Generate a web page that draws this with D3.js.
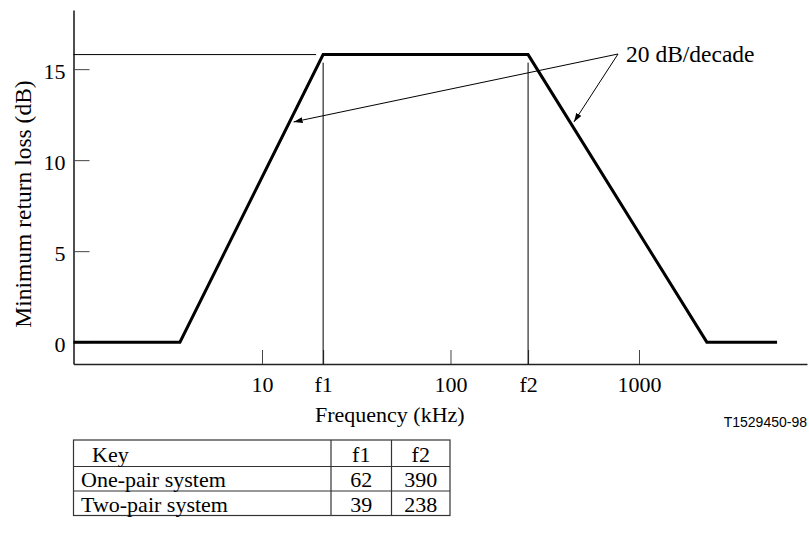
<!DOCTYPE html>
<meta charset="utf-8">
<script src="https://d3js.org/d3.v7.min.js"></script>
<style>
  body { margin: 0; background: #fff; }
  #my_dataviz svg text { font-family: "Liberation Serif", "Times New Roman", serif; fill: #000; }
</style>
<div id="my_dataviz"></div>
<script>
// corner points of the minimum return loss mask (kHz, dB)
var maskFreq = [1, 3.67, 21.1, 258, 2290, 5400];
var maskLoss = [0, 0, 15.8, 15.8, 0, 0];
var f1 = 21.1, f2 = 258, plateau = 15.8;
var xTickValues = [10, f1, 100, f2, 1000];
var xTickLabels = ["10", "f1", "100", "f2", "1000"];
var yTickValues = [0, 5, 10, 15];
// key table
var keyHeader = ["Key", "f1", "f2"];
var keyRows = ["One-pair system", "Two-pair system"];
var keyF1 = [62, 39];
var keyF2 = [390, 238];

var margin = {top: 10, left: 73.5},
    width = 807 - margin.left,
    height = 364 - margin.top;

var svg = d3.select("#my_dataviz")
  .append("svg")
    .attr("width", 809)
    .attr("height", 533);

var g = svg.append("g")
    .attr("transform", "translate(" + margin.left + "," + margin.top + ")");

var x = d3.scaleLog()
    .domain([1, 7785])
    .range([0, width]);
var y = d3.scaleLinear()
    .domain([-1.2, 18.25])
    .range([height, 0]);

// Y axis, ticks pointing inwards
var yAxis = g.append("g")
    .call(d3.axisLeft(y).tickValues(yTickValues).tickSize(-16).tickSizeOuter(0).tickPadding(8));
yAxis.selectAll("text").attr("dy", "0.42em").style("font-size", "22px");

// X axis
var xAxis = g.append("g")
    .attr("transform", "translate(0," + height + ")")
    .call(d3.axisBottom(x).tickValues(xTickValues)
      .tickFormat(function(d, i) { return xTickLabels[i]; })
      .tickSize(-14).tickSizeOuter(0).tickPadding(12));
xAxis.selectAll("text").style("font-size", "22px");

g.selectAll(".domain").style("stroke", "#222").style("stroke-width", 1.6);
g.selectAll(".tick line").style("stroke", "#444").style("stroke-width", 1);

// thin guide lines
g.append("line")
    .attr("x1", 0).attr("x2", x(f1) - 7)
    .attr("y1", y(plateau)).attr("y2", y(plateau))
    .style("stroke", "#000").style("stroke-width", 1);
g.selectAll(".fline")
  .data([f1, f2])
  .enter()
  .append("line")
    .attr("x1", function(d) { return x(d); })
    .attr("x2", function(d) { return x(d); })
    .attr("y1", height)
    .attr("y2", y(plateau) + 8)
    .style("stroke", "#000").style("stroke-width", 1);

// mask
var pts = maskFreq.map(function(d, i) { return [d, maskLoss[i]]; });
g.append("path")
    .datum(pts)
    .attr("fill", "none")
    .attr("stroke", "#000")
    .attr("stroke-width", 3)
    .attr("d", d3.line()
      .x(function(d) { return x(d[0]); })
      .y(function(d) { return y(d[1]); }));

// annotation
svg.append("defs").append("marker")
    .attr("id", "arr")
    .attr("markerUnits", "userSpaceOnUse")
    .attr("markerWidth", 10).attr("markerHeight", 8)
    .attr("refX", 9).attr("refY", 3)
    .attr("orient", "auto")
  .append("path")
    .attr("d", "M0,0 L9,3 L0,6 z")
    .attr("fill", "#000");

function onSegment(p, q, level) {
  var xa = x(p[0]), ya = y(p[1]), xb = x(q[0]), yb = y(q[1]);
  var t = (y(level) - ya) / (yb - ya);
  return [xa + t * (xb - xa), y(level)];
}
var tipA = onSegment(pts[1], pts[2], 12.1),
    tipB = onSegment(pts[3], pts[4], 12.1);
var hub = [544.5, 44];
[tipA, tipB].forEach(function(t) {
  g.append("line")
      .attr("x1", hub[0]).attr("y1", hub[1])
      .attr("x2", t[0] + 4).attr("y2", t[1])
      .attr("stroke", "#000").attr("stroke-width", 1)
      .attr("marker-end", "url(#arr)");
});
g.append("text")
    .attr("x", hub[0] + 8).attr("y", hub[1] + 8)
    .style("font-size", "23.5px")
    .text("20 dB/decade");

// axis titles
svg.append("text")
    .attr("transform", "rotate(-90)")
    .attr("x", -204).attr("y", 31)
    .attr("text-anchor", "middle")
    .style("font-size", "23.5px")
    .text("Minimum return loss (dB)");
svg.append("text")
    .attr("x", 315).attr("y", 422)
    .style("font-size", "22px")
    .text("Frequency (kHz)");
svg.append("text")
    .attr("x", 807).attr("y", 427)
    .attr("text-anchor", "end")
    .style("font-family", "'Liberation Sans', Arial, sans-serif")
    .style("font-size", "14px")
    .text("T1529450-98");

// key table
var colX = [73.5, 331, 391.5, 450],
    rowY = [440, 466.5, 491, 515.5];
var tbl = svg.append("g");
tbl.append("rect")
    .attr("x", colX[0]).attr("y", rowY[0])
    .attr("width", colX[3] - colX[0]).attr("height", rowY[3] - rowY[0])
    .attr("fill", "none").attr("stroke", "#333").attr("stroke-width", 1.2);
[1, 2].forEach(function(i) {
  tbl.append("line")
      .attr("x1", colX[0]).attr("x2", colX[3])
      .attr("y1", rowY[i]).attr("y2", rowY[i])
      .attr("stroke", "#333").attr("stroke-width", 1.2);
  tbl.append("line")
      .attr("x1", colX[i]).attr("x2", colX[i])
      .attr("y1", rowY[0]).attr("y2", rowY[3])
      .attr("stroke", "#333").attr("stroke-width", 1.2);
});
tbl.append("text").attr("x", 92).attr("y", rowY[1] - 5)
    .style("font-size", "22px").text(keyHeader[0]);
tbl.append("text").attr("x", (colX[1] + colX[2]) / 2).attr("y", rowY[1] - 5)
    .attr("text-anchor", "middle").style("font-size", "22px").text(keyHeader[1]);
tbl.append("text").attr("x", (colX[2] + colX[3]) / 2).attr("y", rowY[1] - 5)
    .attr("text-anchor", "middle").style("font-size", "22px").text(keyHeader[2]);
keyRows.forEach(function(name, i) {
  var base = rowY[i + 2] - 4;
  tbl.append("text").attr("x", 81).attr("y", base)
      .style("font-size", "22px").text(name);
  tbl.append("text").attr("x", (colX[1] + colX[2]) / 2).attr("y", base)
      .attr("text-anchor", "middle").style("font-size", "22px").text(keyF1[i]);
  tbl.append("text").attr("x", (colX[2] + colX[3]) / 2).attr("y", base)
      .attr("text-anchor", "middle").style("font-size", "22px").text(keyF2[i]);
});
</script>
